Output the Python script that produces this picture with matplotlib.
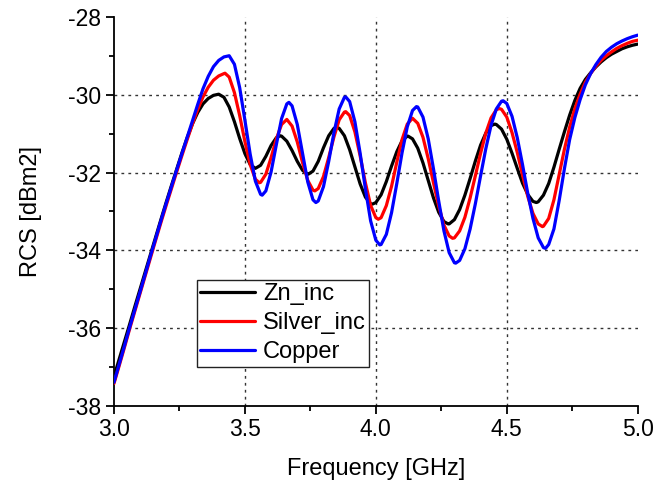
import numpy as np
import matplotlib
matplotlib.use("Agg")
import matplotlib.pyplot as plt
from matplotlib.ticker import MultipleLocator, FormatStrFormatter

plt.rcParams['font.family'] = ['Liberation Sans', 'DejaVu Sans']
plt.rcParams['axes.unicode_minus'] = False

# frequency grid (GHz), 0.02 GHz step
freq = np.linspace(3.0, 5.0, 101)

# RCS values (dBm2)
zn_inc = [
    -37.25, -36.80, -36.35, -35.90, -35.44, -34.99, -34.54, -34.09, -33.64, -33.19,
    -32.75, -32.32, -31.90, -31.48, -31.09, -30.74, -30.45, -30.23, -30.09, -30.01,
    -29.98, -30.06, -30.31, -30.69, -31.12, -31.51, -31.79, -31.89, -31.81, -31.58,
    -31.30, -31.10, -31.06, -31.19, -31.43, -31.71, -31.94, -32.04, -31.96, -31.71,
    -31.36, -31.05, -30.86, -30.86, -31.05, -31.41, -31.85, -32.29, -32.63, -32.80,
    -32.77, -32.57, -32.23, -31.83, -31.46, -31.18, -31.06, -31.13, -31.37, -31.75,
    -32.20, -32.65, -33.02, -33.26, -33.32, -33.21, -32.95, -32.58, -32.15, -31.70,
    -31.29, -30.98, -30.79, -30.76, -30.88, -31.14, -31.50, -31.89, -32.27, -32.56,
    -32.74, -32.75, -32.58, -32.28, -31.86, -31.40, -30.95, -30.52, -30.14, -29.83,
    -29.60, -29.43, -29.28, -29.15, -29.04, -28.95, -28.88, -28.81, -28.76, -28.72,
    -28.69]

silver_inc = [
    -37.43, -36.97, -36.50, -36.02, -35.56, -35.10, -34.64, -34.18, -33.72, -33.27,
    -32.83, -32.40, -31.97, -31.55, -31.14, -30.74, -30.37, -30.05, -29.80, -29.62,
    -29.51, -29.45, -29.54, -29.94, -30.53, -31.20, -31.79, -32.17, -32.25, -32.04,
    -31.61, -31.13, -30.76, -30.63, -30.80, -31.21, -31.74, -32.20, -32.45, -32.41,
    -32.10, -31.61, -31.08, -30.64, -30.44, -30.53, -30.95, -31.57, -32.26, -32.84,
    -33.16, -33.16, -32.85, -32.35, -31.73, -31.15, -30.75, -30.60, -30.73, -31.09,
    -31.64, -32.26, -32.86, -33.35, -33.63, -33.68, -33.50, -33.15, -32.65, -32.08,
    -31.50, -30.98, -30.59, -30.38, -30.37, -30.57, -30.97, -31.48, -32.06, -32.61,
    -33.05, -33.32, -33.38, -33.18, -32.70, -32.05, -31.40, -30.83, -30.35, -29.98,
    -29.67, -29.45, -29.26, -29.11, -28.99, -28.89, -28.80, -28.73, -28.67, -28.62,
    -28.59]

copper = [
    -37.40, -36.93, -36.46, -35.98, -35.52, -35.06, -34.60, -34.13, -33.68, -33.22,
    -32.78, -32.35, -31.92, -31.50, -31.08, -30.66, -30.24, -29.84, -29.52, -29.27,
    -29.11, -29.02, -28.99, -29.21, -29.81, -30.65, -31.52, -32.22, -32.56, -32.47,
    -31.98, -31.28, -30.61, -30.23, -30.28, -30.76, -31.50, -32.24, -32.70, -32.73,
    -32.36, -31.71, -30.97, -30.36, -30.06, -30.17, -30.69, -31.50, -32.41, -33.24,
    -33.74, -33.85, -33.59, -33.03, -32.28, -31.49, -30.82, -30.40, -30.31, -30.57,
    -31.13, -31.90, -32.73, -33.50, -34.06, -34.32, -34.26, -33.96, -33.45, -32.80,
    -32.08, -31.38, -30.78, -30.36, -30.16, -30.22, -30.55, -31.10, -31.79, -32.53,
    -33.18, -33.68, -33.93, -33.85, -33.45, -32.72, -31.90, -31.15, -30.58, -30.12,
    -29.74, -29.45, -29.22, -29.03, -28.88, -28.77, -28.68, -28.61, -28.55, -28.50,
    -28.46]

# peaks / dips that fall between grid points (freq, value)
zn_ext_f = [3.634, 3.742, 3.850, 3.987, 4.123, 4.276, 4.454, 4.613]
zn_ext_v = [-31.05, -32.04, -30.83, -32.81, -31.06, -33.32, -30.75, -32.77]
silver_ext_f = [3.424, 3.555, 3.767, 3.885, 4.009, 4.293, 4.471, 4.636]
silver_ext_v = [-29.44, -32.26, -32.47, -30.43, -33.20, -33.69, -30.35, -33.39]
copper_ext_f = [3.566, 3.668, 3.771, 3.885, 4.015, 4.155, 4.305, 4.486, 4.648]
copper_ext_v = [-32.58, -30.19, -32.77, -30.05, -33.86, -30.30, -34.33, -30.15, -33.95]

series_names = ['Zn_inc', 'Silver_inc', 'Copper']
series_colors = ['#000000', '#ff0000', '#0000ff']

x_grid = [3.5, 4.0, 4.5]
y_grid = [-30, -32, -34, -36]


def merge(vals, ext_f, ext_v):
    x = np.concatenate([freq, ext_f])
    y = np.concatenate([vals, ext_v])
    order = np.argsort(x, kind='stable')
    return x[order], y[order]


fig = plt.figure(figsize=(6.72, 4.87), dpi=100)
ax = fig.add_axes([0.1696, 0.167, 0.7794, 0.7975])

# dotted grid only on inner major ticks
for gx in x_grid:
    ax.axvline(gx, color='#333333', lw=1.0, ls=(0, (2, 3)), zorder=1)
for gy in y_grid:
    ax.axhline(gy, color='#333333', lw=1.0, ls=(0, (2, 3)), zorder=1)

all_series = [(zn_inc, zn_ext_f, zn_ext_v),
              (silver_inc, silver_ext_f, silver_ext_v),
              (copper, copper_ext_f, copper_ext_v)]
for (vals, ef, ev), name, c in zip(all_series, series_names, series_colors):
    x, y = merge(vals, ef, ev)
    ax.plot(x, y, color=c, lw=2.3, label=name, zorder=3,
            solid_joinstyle='round', solid_capstyle='round')

ax.set_xlim(3.0, 5.0)
ax.set_ylim(-38, -28)
ax.xaxis.set_major_locator(MultipleLocator(0.5))
ax.xaxis.set_minor_locator(MultipleLocator(0.25))
ax.yaxis.set_major_locator(MultipleLocator(2))
ax.yaxis.set_minor_locator(MultipleLocator(1))
ax.xaxis.set_major_formatter(FormatStrFormatter('%.1f'))

for s in ['top', 'right']:
    ax.spines[s].set_visible(False)
for s in ['left', 'bottom']:
    ax.spines[s].set_linewidth(1.3)

ax.tick_params(which='major', direction='out', length=6, width=1.3, labelsize=16.5, pad=3)
ax.tick_params(which='minor', direction='out', length=3.5, width=1.3)

ax.set_xlabel('Frequency [GHz]', fontsize=17, labelpad=12)
ax.set_ylabel('RCS [dBm2]', fontsize=17, labelpad=19)

leg = ax.legend(loc='lower left', bbox_to_anchor=(0.158, 0.1), fontsize=17,
                frameon=True, fancybox=False, framealpha=1, edgecolor='#222222',
                handlelength=2.3, handletextpad=0.35, borderpad=0.15,
                labelspacing=0.3, borderaxespad=0)
leg.get_frame().set_linewidth(1.0)

fig.savefig('out.png', dpi=100)
